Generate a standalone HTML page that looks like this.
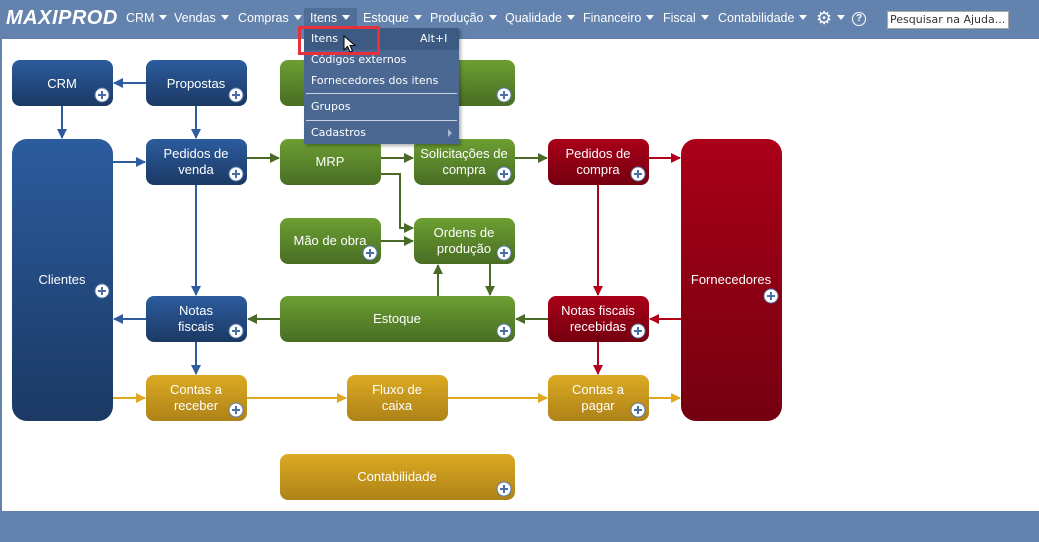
<!DOCTYPE html>
<html><head><meta charset="utf-8">
<style>
html,body{margin:0;padding:0;}
body{width:1039px;height:542px;position:relative;overflow:hidden;background:#6383ae;font-family:"Liberation Sans",Arial,sans-serif;}
#main{position:absolute;left:2px;top:39px;width:1037px;height:472px;background:#fff;}
.nav{position:absolute;top:11px;color:#fff;font-size:12.5px;white-space:nowrap;}
.tri{display:inline-block;width:0;height:0;border-left:4px solid transparent;border-right:4px solid transparent;border-top:5px solid #fff;margin-left:5px;vertical-align:2px;}
#logo{position:absolute;left:6px;top:7px;color:#fff;font-weight:bold;font-style:italic;font-size:20px;letter-spacing:0.5px;}
#search{position:absolute;left:887px;top:11px;width:122px;height:18px;background:#fff;border:1px solid #aaa;box-sizing:border-box;color:#333;padding:1px 2px;font-family:"DejaVu Sans",sans-serif;font-size:11px;}
#menu{position:absolute;left:304px;top:28px;width:155px;height:116px;background:#4a6891;box-shadow:2px 2px 3px rgba(0,0,0,.3);}
.mi{position:absolute;left:7px;color:#fff;font-size:11px;font-family:"DejaVu Sans",sans-serif;}
.sep{position:absolute;left:2px;right:2px;height:1px;background:#c8d2e0;}
</style></head><body>
<div id="logo">MAXIPROD</div>
<div style="position:absolute;left:304px;top:8px;width:53px;height:31px;background:#4f6e98;"></div>
<div class="nav" style="left:126px">CRM<span class="tri"></span></div>
<div class="nav" style="left:174px">Vendas<span class="tri"></span></div>
<div class="nav" style="left:238px">Compras<span class="tri"></span></div>
<div class="nav" style="left:310px">Itens<span class="tri"></span></div>
<div class="nav" style="left:363px">Estoque<span class="tri"></span></div>
<div class="nav" style="left:430px">Produção<span class="tri"></span></div>
<div class="nav" style="left:505px">Qualidade<span class="tri"></span></div>
<div class="nav" style="left:583px">Financeiro<span class="tri"></span></div>
<div class="nav" style="left:663px">Fiscal<span class="tri"></span></div>
<div class="nav" style="left:718px">Contabilidade<span class="tri"></span></div>
<div class="nav" style="left:816px;top:8px;font-size:18px;">⚙</div>
<div class="nav" style="left:832px"><span class="tri"></span></div>
<div style="position:absolute;left:852px;top:12px;width:12px;height:12px;border:1.5px solid #fff;border-radius:50%;color:#fff;font-size:10px;text-align:center;line-height:12px;font-weight:bold;">?</div>
<div id="search">Pesquisar na Ajuda...</div>
<div id="main"></div>

<svg width="1039" height="542" style="position:absolute;left:0;top:0">
<defs>
<linearGradient id="gb" x1="0" y1="0" x2="0" y2="1"><stop offset="0" stop-color="#2c5c9e"/><stop offset="1" stop-color="#1b3964"/></linearGradient>
<linearGradient id="gg" x1="0" y1="0" x2="0" y2="1"><stop offset="0" stop-color="#6c9f32"/><stop offset="1" stop-color="#496d24"/></linearGradient>
<linearGradient id="gr" x1="0" y1="0" x2="0" y2="1"><stop offset="0" stop-color="#aa0018"/><stop offset="1" stop-color="#740010"/></linearGradient>
<linearGradient id="gy" x1="0" y1="0" x2="0" y2="1"><stop offset="0" stop-color="#dcaa22"/><stop offset="1" stop-color="#ad8218"/></linearGradient>
<marker id="mb" markerWidth="10" markerHeight="10" refX="9" refY="5" orient="auto" markerUnits="userSpaceOnUse"><path d="M0,0 L10,5 L0,10 z" fill="#2e5c9e"/></marker>
<marker id="mg" markerWidth="10" markerHeight="10" refX="9" refY="5" orient="auto" markerUnits="userSpaceOnUse"><path d="M0,0 L10,5 L0,10 z" fill="#4a6a28"/></marker>
<marker id="mr" markerWidth="10" markerHeight="10" refX="9" refY="5" orient="auto" markerUnits="userSpaceOnUse"><path d="M0,0 L10,5 L0,10 z" fill="#b0001a"/></marker>
<marker id="my" markerWidth="10" markerHeight="10" refX="9" refY="5" orient="auto" markerUnits="userSpaceOnUse"><path d="M0,0 L10,5 L0,10 z" fill="#e0a820"/></marker>
<g id="plus"><circle r="7" fill="#fff" stroke="#5a7db0" stroke-width="1"/><path d="M-4,0 H4 M0,-4 V4" stroke="#4a6fa5" stroke-width="2"/></g>
</defs>
<g stroke-width="2" fill="none">
<g stroke="#2e5c9e">
<line x1="146" y1="83" x2="114" y2="83" marker-end="url(#mb)"/>
<line x1="62" y1="106" x2="62" y2="138" marker-end="url(#mb)"/>
<line x1="196" y1="106" x2="196" y2="138" marker-end="url(#mb)"/>
<line x1="113" y1="162" x2="145" y2="162" marker-end="url(#mb)"/>
<line x1="196" y1="185" x2="196" y2="295" marker-end="url(#mb)"/>
<line x1="146" y1="319" x2="114" y2="319" marker-end="url(#mb)"/>
<line x1="196" y1="342" x2="196" y2="374" marker-end="url(#mb)"/>
</g>
<g stroke="#4a6a28">
<line x1="247" y1="158" x2="279" y2="158" marker-end="url(#mg)"/>
<line x1="381" y1="158" x2="413" y2="158" marker-end="url(#mg)"/>
<line x1="515" y1="158" x2="547" y2="158" marker-end="url(#mg)"/>
<polyline points="381,174 400,174 400,228 413,228" marker-end="url(#mg)"/>
<line x1="381" y1="241" x2="413" y2="241" marker-end="url(#mg)"/>
<line x1="438" y1="296" x2="438" y2="265" marker-end="url(#mg)"/>
<line x1="490" y1="264" x2="490" y2="295" marker-end="url(#mg)"/>
<line x1="280" y1="319" x2="248" y2="319" marker-end="url(#mg)"/>
<line x1="548" y1="319" x2="516" y2="319" marker-end="url(#mg)"/>
</g>
<g stroke="#b0001a">
<line x1="649" y1="158" x2="680" y2="158" marker-end="url(#mr)"/>
<line x1="598" y1="185" x2="598" y2="295" marker-end="url(#mr)"/>
<line x1="681" y1="319" x2="650" y2="319" marker-end="url(#mr)"/>
<line x1="598" y1="342" x2="598" y2="374" marker-end="url(#mr)"/>
</g>
<g stroke="#e0a820">
<line x1="113" y1="398" x2="145" y2="398" marker-end="url(#my)"/>
<line x1="247" y1="398" x2="346" y2="398" marker-end="url(#my)"/>
<line x1="448" y1="398" x2="547" y2="398" marker-end="url(#my)"/>
<line x1="649" y1="398" x2="680" y2="398" marker-end="url(#my)"/>
</g>
</g>
<g>
<rect x="12" y="60" width="101" height="46" rx="8" fill="url(#gb)"/>
<rect x="146" y="60" width="101" height="46" rx="8" fill="url(#gb)"/>
<rect x="280" y="60" width="235" height="46" rx="8" fill="url(#gg)"/>
<rect x="12" y="139" width="101" height="282" rx="15" fill="url(#gb)"/>
<rect x="146" y="139" width="101" height="46" rx="8" fill="url(#gb)"/>
<rect x="280" y="139" width="101" height="46" rx="8" fill="url(#gg)"/>
<rect x="414" y="139" width="101" height="46" rx="8" fill="url(#gg)"/>
<rect x="548" y="139" width="101" height="46" rx="8" fill="url(#gr)"/>
<rect x="681" y="139" width="101" height="282" rx="15" fill="url(#gr)"/>
<rect x="280" y="218" width="101" height="46" rx="8" fill="url(#gg)"/>
<rect x="414" y="218" width="101" height="46" rx="8" fill="url(#gg)"/>
<rect x="146" y="296" width="101" height="46" rx="8" fill="url(#gb)"/>
<rect x="280" y="296" width="235" height="46" rx="8" fill="url(#gg)"/>
<rect x="548" y="296" width="101" height="46" rx="8" fill="url(#gr)"/>
<rect x="146" y="375" width="101" height="46" rx="8" fill="url(#gy)"/>
<rect x="347" y="375" width="101" height="46" rx="8" fill="url(#gy)"/>
<rect x="548" y="375" width="101" height="46" rx="8" fill="url(#gy)"/>
<rect x="280" y="454" width="235" height="46" rx="8" fill="url(#gy)"/>
</g>
<g>
<use href="#plus" x="102" y="95"/><use href="#plus" x="236" y="95"/><use href="#plus" x="504" y="95"/>
<use href="#plus" x="102" y="291"/><use href="#plus" x="236" y="174"/><use href="#plus" x="504" y="174"/>
<use href="#plus" x="638" y="174"/><use href="#plus" x="771" y="296"/>
<use href="#plus" x="370" y="253"/><use href="#plus" x="504" y="253"/>
<use href="#plus" x="236" y="331"/><use href="#plus" x="504" y="331"/><use href="#plus" x="638" y="331"/>
<use href="#plus" x="236" y="410"/><use href="#plus" x="638" y="410"/><use href="#plus" x="504" y="489"/>
</g>
<g fill="#fff" font-family="Liberation Sans, Arial, sans-serif" font-size="13" text-anchor="middle">
<text x="62" y="88">CRM</text>
<text x="196" y="88">Propostas</text>
<text x="196" y="158">Pedidos de</text><text x="196" y="174">venda</text>
<text x="330" y="166">MRP</text>
<text x="464" y="158">Solicitações de</text><text x="464" y="174">compra</text>
<text x="598" y="158">Pedidos de</text><text x="598" y="174">compra</text>
<text x="62" y="284">Clientes</text>
<text x="731" y="284">Fornecedores</text>
<text x="330" y="245">Mão de obra</text>
<text x="464" y="237">Ordens de</text><text x="464" y="253">produção</text>
<text x="196" y="315">Notas</text><text x="196" y="331">fiscais</text>
<text x="397" y="323">Estoque</text>
<text x="598" y="315">Notas fiscais</text><text x="598" y="331">recebidas</text>
<text x="196" y="394">Contas a</text><text x="196" y="410">receber</text>
<text x="397" y="394">Fluxo de</text><text x="397" y="410">caixa</text>
<text x="598" y="394">Contas a</text><text x="598" y="410">pagar</text>
<text x="397" y="481">Contabilidade</text>
</g>
</svg>

<div id="menu">
<div style="position:absolute;left:0;top:0;width:155px;height:22px;background:#3c5a82;"></div>
<div class="mi" style="top:4px">Itens</div>
<div class="mi" style="top:4px;left:116px">Alt+I</div>
<div class="mi" style="top:25px">Códigos externos</div>
<div class="mi" style="top:46px">Fornecedores dos itens</div>
<div class="sep" style="top:65px"></div>
<div class="mi" style="top:72px">Grupos</div>
<div class="sep" style="top:92px"></div>
<div class="mi" style="top:98px">Cadastros</div>
<div style="position:absolute;left:144px;top:101px;width:0;height:0;border-top:4px solid transparent;border-bottom:4px solid transparent;border-left:4px solid #aab8cc;"></div>
</div>
<div style="position:absolute;left:298px;top:26px;width:82px;height:29px;border:3px solid #e8303a;box-sizing:border-box;"></div>
<svg width="14" height="20" style="position:absolute;left:343px;top:35px"><path d="M1,1 L1,15 L4.5,11.5 L7,17 L9.5,16 L7,10.5 L12,10.5 Z" fill="#fff" stroke="#000" stroke-width="1"/></svg>
</body></html>
